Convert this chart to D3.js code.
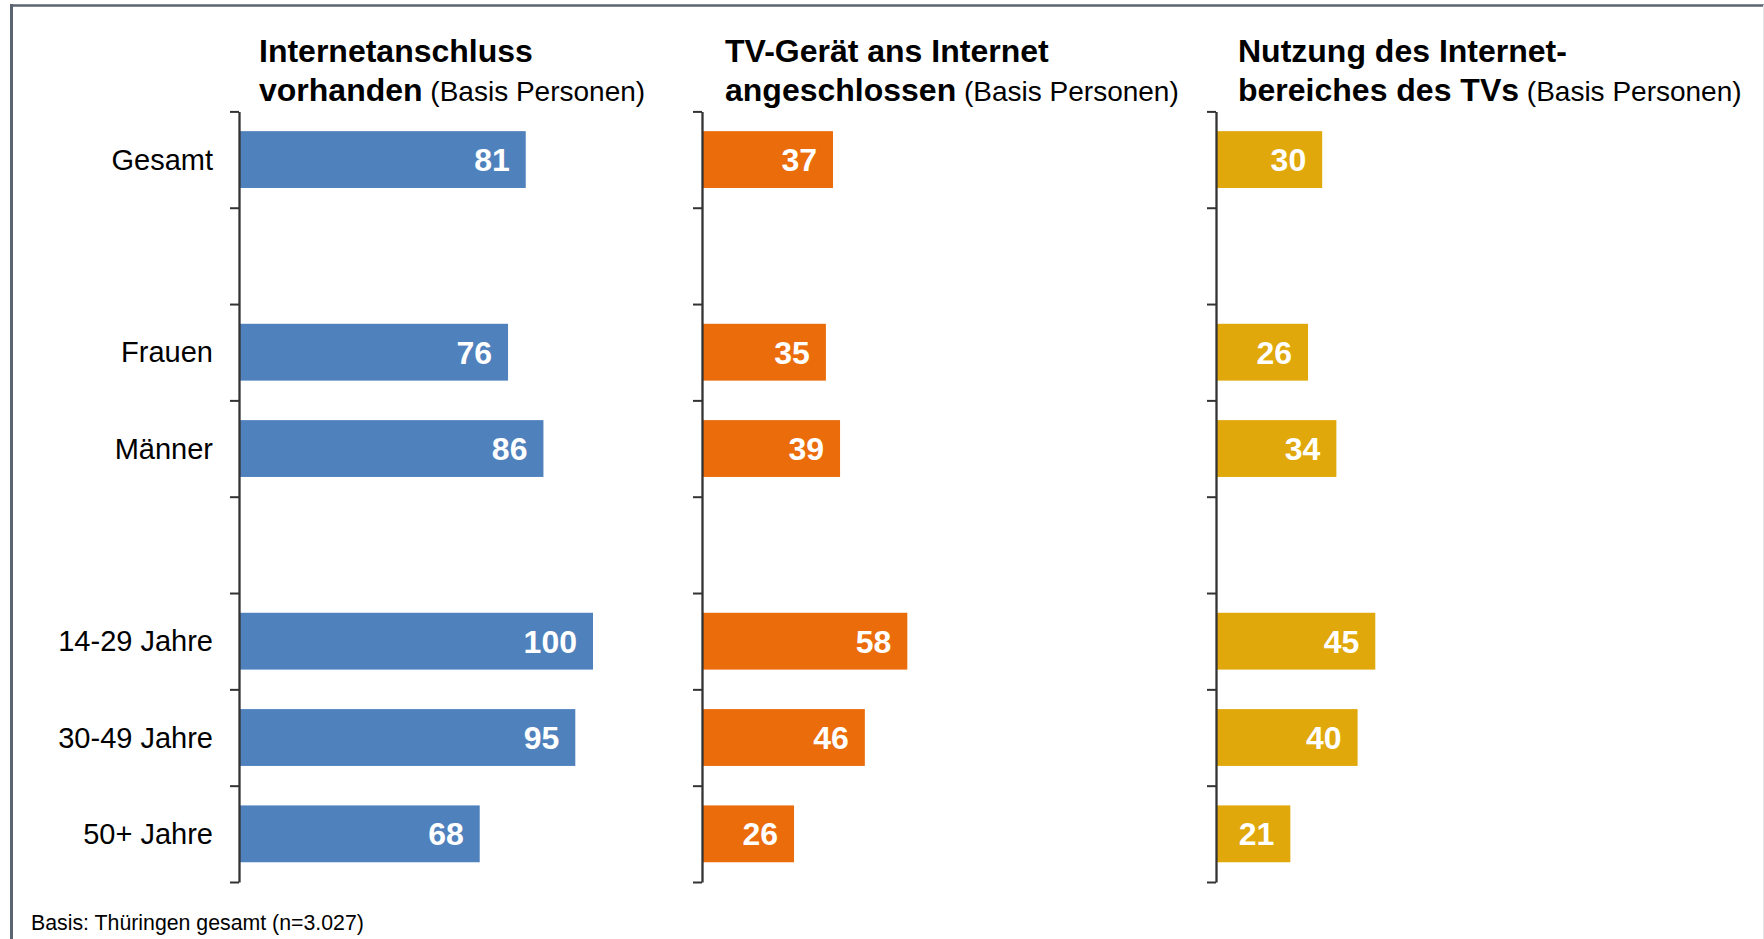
<!DOCTYPE html>
<html>
<head>
<meta charset="utf-8">
<script src="https://cdn.jsdelivr.net/npm/d3@7"></script>
<style>
  html, body { margin: 0; padding: 0; background: #ffffff; }
  svg { display: block; }
  text { font-family: "Liberation Sans", Arial, Helvetica, sans-serif; }
</style>
</head>
<body>
<svg id="chart" width="1764" height="939"></svg>
<script>
// ---- data ----
const slots = ["Gesamt", "gap1", "Frauen", "Männer", "gap2", "14-29 Jahre", "30-49 Jahre", "50+ Jahre"];
const categories = ["Gesamt", "Frauen", "Männer", "14-29 Jahre", "30-49 Jahre", "50+ Jahre"];
const internetanschluss = [81, 76, 86, 100, 95, 68];
const tvAngeschlossen = [37, 35, 39, 58, 46, 26];
const tvInternetNutzung = [30, 26, 34, 45, 40, 21];
const titleBold1 = ["Internetanschluss", "TV-Gerät ans Internet", "Nutzung des Internet-"];
const titleBold2 = ["vorhanden", "angeschlossen", "bereiches des TVs"];
const titleSuffix = "(Basis Personen)";
const footnote = "Basis: Thüringen gesamt (n=3.027)";

// ---- layout / style ----
const colors = ["#4f81bd", "#ea6c0b", "#e0a80a"];
const panelX = [239, 702, 1216];
const titleOffset = [20, 23, 22];
const plotTop = 111.4, plotBottom = 882;
const barMax = 354;

const svg = d3.select("#chart");

// frame
svg.append("line").attr("x1", 11.5).attr("x2", 11.5).attr("y1", 4).attr("y2", 939)
  .attr("stroke", "#5b6570").attr("stroke-width", 3);
svg.append("line").attr("x1", 10).attr("x2", 1764).attr("y1", 5.5).attr("y2", 5.5)
  .attr("stroke", "#5b6570").attr("stroke-width", 2.5);
svg.append("line").attr("x1", 1763.5).attr("x2", 1763.5).attr("y1", 5).attr("y2", 939)
  .attr("stroke", "#e4e6ea").attr("stroke-width", 1);

const y = d3.scaleBand().domain(slots).range([plotTop, plotBottom])
  .paddingInner(0.41).paddingOuter(0.205);
const yTicks = d3.scaleLinear().domain([0, slots.length]).range([plotTop, plotBottom]);
const x = d3.scaleLinear().domain([0, 100]).range([0, barMax]);

const series = [internetanschluss, tvAngeschlossen, tvInternetNutzung];

series.forEach((vals, i) => {
  const g = svg.append("g").attr("transform", `translate(${panelX[i]},0)`);
  const rows = categories.map((c, k) => ({ cat: c, v: vals[k] }));

  g.selectAll("rect.bar").data(rows).enter().append("rect")
    .attr("class", "bar")
    .attr("x", 0)
    .attr("y", d => y(d.cat))
    .attr("width", d => x(d.v))
    .attr("height", y.bandwidth())
    .attr("fill", colors[i]);

  g.selectAll("text.val").data(rows).enter().append("text")
    .attr("class", "val")
    .attr("x", d => x(d.v) - 16)
    .attr("y", d => y(d.cat) + y.bandwidth() / 2 + 11.5)
    .attr("text-anchor", "end")
    .attr("fill", "#ffffff")
    .attr("font-weight", "bold")
    .attr("font-size", "32px")
    .text(d => d.v);

  // axis with ticks at band boundaries
  const axis = d3.axisLeft(yTicks).tickValues(d3.range(slots.length + 1))
    .tickFormat("").tickSizeInner(9).tickSizeOuter(0);
  const ag = g.append("g").call(axis);
  ag.select(".domain").attr("stroke", "#333333").attr("stroke-width", 2.3);
  ag.selectAll(".tick line").attr("stroke", "#333333").attr("stroke-width", 2);

  // title
  const tx = titleOffset[i];
  g.append("text").attr("x", tx).attr("y", 62)
    .attr("font-size", "32px").attr("font-weight", "bold").attr("fill", "#000")
    .text(titleBold1[i]);
  const t2 = g.append("text").attr("x", tx).attr("y", 100.5).attr("fill", "#000");
  t2.append("tspan").attr("font-size", "32px").attr("font-weight", "bold").text(titleBold2[i]);
  t2.append("tspan").attr("font-size", "28px").attr("font-weight", "normal").text(" " + titleSuffix);
});

// category labels
svg.append("g").selectAll("text").data(categories).enter().append("text")
  .attr("x", panelX[0] - 26)
  .attr("y", d => y(d) + y.bandwidth() / 2 + 10)
  .attr("text-anchor", "end")
  .attr("font-size", "29px")
  .attr("fill", "#000")
  .text(d => d);

// footnote
svg.append("text").attr("x", 31).attr("y", 930)
  .attr("font-size", "21.3px").attr("fill", "#000").text(footnote);
</script>
</body>
</html>
